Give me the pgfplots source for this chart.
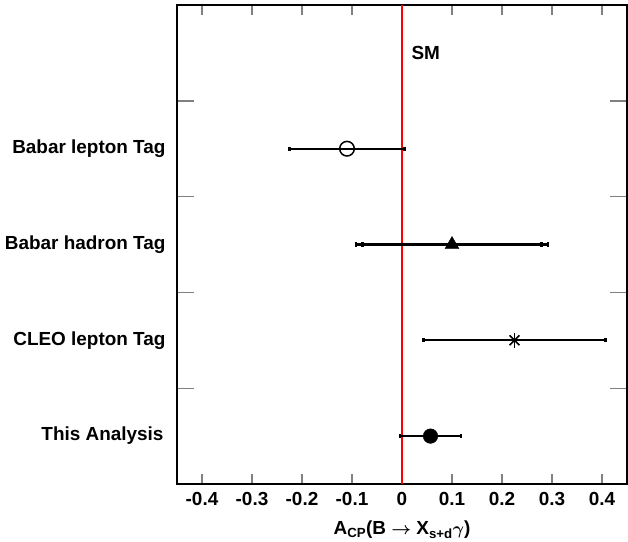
\documentclass[border=0pt]{standalone}
\usepackage{amsmath}
\usepackage{fontspec}
\setmainfont{Liberation Sans}
\usepackage{pgfplots}
\pgfplotsset{compat=1.18}
\begin{document}
\begin{tikzpicture}
\path[use as bounding box] (0,0) rectangle (628bp,542bp);
\begin{axis}[
  at={(177bp,58bp)}, anchor=south west,
  width=450bp, height=479bp, scale only axis,
  xmin=-0.45, xmax=0.45, ymin=0.5, ymax=5.5,
  axis line style={line width=2bp},
  tick align=inside,
  xtick={-0.4,-0.3,-0.2,-0.1,0,0.1,0.2,0.3,0.4},
  xticklabels={-0.4,-0.3,-0.2,-0.1,0,0.1,0.2,0.3,0.4},
  ytick={1.5,2.5,3.5,4.5},
  yticklabels={},
  xtick style={line width=1.4bp, /pgfplots/major tick length=10bp},
  ytick style={line width=1.4bp, /pgfplots/major tick length=17bp},
  tick label style={font=\bfseries\fontsize{19}{22}\selectfont},
  xticklabel style={yshift=-5bp},
  xlabel={\bfseries A\textsubscript{CP}(B $\boldsymbol{\rightarrow}$ X\textsubscript{s+d}$\boldsymbol{\gamma}$)},
  xlabel style={font=\bfseries\fontsize{19}{22}\selectfont, yshift=-8bp},
  clip=false,
]
% SM line
\addplot[draw=red, line width=1.3bp, mark=none] coordinates {(0,0.5) (0,5.5)};
% Babar lepton tag
\addplot[black, line width=1.5bp, mark=o, mark size=7.3bp, mark options={fill=white},
  error bars/.cd, x dir=both, x explicit,
  error bar style={line width=2.2bp, black},
  error mark=|, error mark options={mark size=2bp, line width=2.2bp, black}]
  coordinates {(-0.11,4) +- (0.115,0)};
% Babar hadron tag: total (line + caps) and statistical (caps only)
\addplot[black, mark=triangle*, mark size=8bp,
  error bars/.cd, x dir=both, x explicit,
  error bar style={line width=2.2bp, black},
  error mark=|, error mark options={mark size=2bp, line width=2.2bp, black}]
  coordinates {(0.10,3) +- (0.192,0)};
\addplot[black, only marks, mark=none, forget plot,
  error bars/.cd, x dir=both, x explicit,
  error bar style={draw=none},
  error mark=|, error mark options={mark size=2bp, line width=2.2bp, draw=black}]
  coordinates {(0.10,3) +- (0.179,0)};
% CLEO lepton tag
\addplot[black, line width=1.5bp, mark=x, mark size=7bp,
  error bars/.cd, x dir=both, x explicit,
  error bar style={line width=2.2bp, black},
  error mark=|, error mark options={mark size=2bp, line width=2.2bp, black}]
  coordinates {(0.225,2) +- (0.182,0)};
\addplot[black, line width=1.5bp, mark=+, mark size=7.5bp, forget plot]
  coordinates {(0.225,2)};
% This analysis
\addplot[black, mark=*, mark size=7.3bp,
  error bars/.cd, x dir=both, x explicit,
  error bar style={line width=2.2bp, black},
  error mark=|, error mark options={mark size=2bp, line width=2.2bp, black}]
  coordinates {(0.057,1) +- (0.061,0)};
\node[anchor=west, font=\bfseries\fontsize{19}{22}\selectfont] at (axis cs:0.012,5.0) {SM};
\node[anchor=east, font=\bfseries\fontsize{19}{22}\selectfont, xshift=-8bp] at (axis cs:-0.45,4) {Babar lepton Tag};
\node[anchor=east, font=\bfseries\fontsize{19}{22}\selectfont, xshift=-8bp] at (axis cs:-0.45,3) {Babar hadron Tag};
\node[anchor=east, font=\bfseries\fontsize{19}{22}\selectfont, xshift=-8bp] at (axis cs:-0.45,2) {CLEO lepton Tag};
\node[anchor=east, font=\bfseries\fontsize{19}{22}\selectfont, xshift=-10bp] at (axis cs:-0.45,1) {This Analysis};
\end{axis}
\end{tikzpicture}
\end{document}
